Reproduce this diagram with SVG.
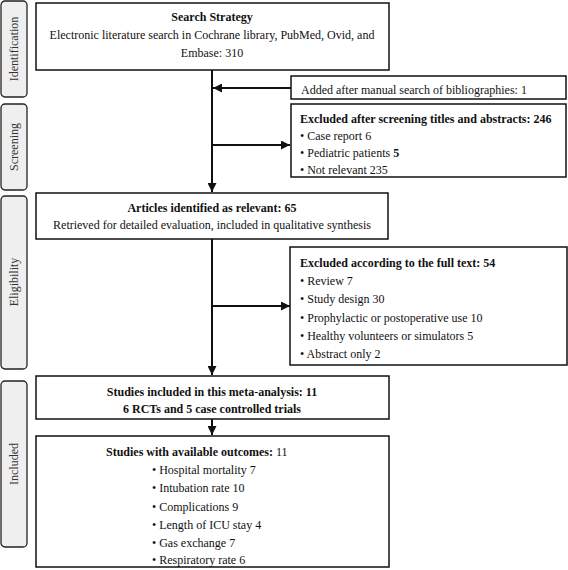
<svg xmlns="http://www.w3.org/2000/svg" width="568" height="570" viewBox="0 0 568 570">
<style>
text{font-family:"Liberation Serif","Times New Roman",serif;font-size:12px;fill:#111}
.b{font-weight:bold}
.box{fill:#fff;stroke:#111;stroke-width:1.5}
.side{fill:#efefef;stroke:#222;stroke-width:1.3}
.sl{font-size:12px;fill:#333}
.ln{stroke:#111;stroke-width:2;fill:none}
</style>
<defs>
<marker id="ah" viewBox="0 0 10 10" refX="10" refY="5" markerWidth="4.5" markerHeight="4.5" orient="auto" markerUnits="strokeWidth">
<path d="M0,0 L10,5 L0,10 z" fill="#111"/>
</marker>
</defs>
<g id="phases">
<g id="phase-identification"><rect class="side" x="1" y="1" width="26" height="96" rx="4"/><text class="sl" transform="translate(18,49) rotate(-90)" text-anchor="middle">Identification</text></g>
<g id="phase-screening"><rect class="side" x="1" y="104" width="26" height="86" rx="4"/><text class="sl" transform="translate(18,147) rotate(-90)" text-anchor="middle">Screening</text></g>
<g id="phase-eligibility"><rect class="side" x="1" y="196" width="26" height="173" rx="4"/><text class="sl" transform="translate(18,282) rotate(-90)" text-anchor="middle">Eligibility</text></g>
<g id="phase-included"><rect class="side" x="1" y="381" width="26" height="166" rx="4"/><text class="sl" transform="translate(18,464) rotate(-90)" text-anchor="middle">Included</text></g>
</g>
<g id="connectors">
<line class="ln" x1="212" y1="70" x2="212" y2="192" marker-end="url(#ah)"/>
<line class="ln" x1="291" y1="88" x2="213" y2="88" marker-end="url(#ah)"/>
<line class="ln" x1="212" y1="145" x2="290" y2="145" marker-end="url(#ah)"/>
<line class="ln" x1="212" y1="239" x2="212" y2="375" marker-end="url(#ah)"/>
<line class="ln" x1="212" y1="306" x2="290" y2="306" marker-end="url(#ah)"/>
<line class="ln" x1="212" y1="419" x2="212" y2="435" marker-end="url(#ah)"/>
</g>
<g id="search">
<rect class="box" x="36" y="3" width="353" height="67"/>
<text class="b" x="212" y="21" text-anchor="middle">Search Strategy</text>
<text x="212" y="39" text-anchor="middle">Electronic literature search in Cochrane library, PubMed, Ovid, and</text>
<text x="212" y="57" text-anchor="middle">Embase: 310</text>
</g>
<g id="added">
<rect class="box" x="291" y="76" width="275" height="23"/>
<text x="301" y="94">Added after manual search of bibliographies: 1</text>
</g>
<g id="excluded-screening">
<rect class="box" x="291" y="104" width="275" height="73"/>
<text class="b" x="300" y="123">Excluded after screening titles and abstracts: 246</text>
<text x="300" y="140">• Case report 6</text>
<text x="300" y="157">• Pediatric patients <tspan class="b">5</tspan></text>
<text x="300" y="174">• Not relevant 235</text>
</g>
<g id="relevant">
<rect class="box" x="36" y="193" width="352" height="46"/>
<text x="212" y="212" text-anchor="middle"><tspan class="b">Articles identified as relevant: 65</tspan></text>
<text x="212" y="229" text-anchor="middle">Retrieved for detailed evaluation, included in qualitative synthesis</text>
</g>
<g id="excluded-fulltext">
<rect class="box" x="290" y="247" width="277" height="118"/>
<text class="b" x="300" y="267">Excluded according to the full text: 54</text>
<text x="300" y="285">• Review 7</text>
<text x="300" y="303">• Study design 30</text>
<text x="300" y="322">• Prophylactic or postoperative use 10</text>
<text x="300" y="340">• Healthy volunteers or simulators 5</text>
<text x="300" y="358">• Abstract only 2</text>
</g>
<g id="included-studies">
<rect class="box" x="36" y="376" width="353" height="43"/>
<text class="b" x="212" y="396" text-anchor="middle">Studies included in this meta-analysis: 11</text>
<text class="b" x="212" y="413" text-anchor="middle">6 RCTs and 5 case controlled trials</text>
</g>
<g id="outcomes">
<rect class="box" x="36" y="436" width="353" height="131"/>
<text x="106" y="456"><tspan class="b">Studies with available outcomes: </tspan>11</text>
<text x="152" y="474">• Hospital mortality 7</text>
<text x="152" y="492">• Intubation rate 10</text>
<text x="152" y="511">• Complications 9</text>
<text x="152" y="529">• Length of ICU stay 4</text>
<text x="152" y="547">• Gas exchange 7</text>
<text x="152" y="564">• Respiratory rate 6</text>
</g>
</svg>
